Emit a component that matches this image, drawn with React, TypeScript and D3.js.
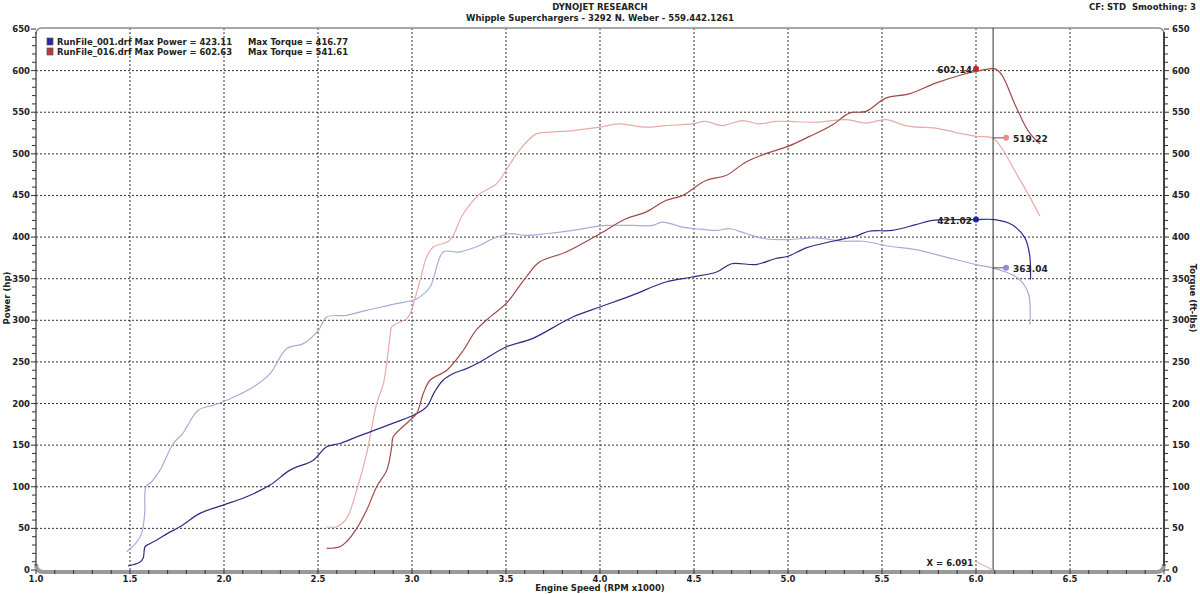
import React from "react";
import * as d3 from "d3";

const W = 1200;
const H = 594;

const xTicks = [1.0, 1.5, 2.0, 2.5, 3.0, 3.5, 4.0, 4.5, 5.0, 5.5, 6.0, 6.5, 7.0];
const yTicks = [0, 50, 100, 150, 200, 250, 300, 350, 400, 450, 500, 550, 600, 650];

const run001Power: [number, number][] = [
  [1.49, 5], [1.55, 9], [1.57, 14], [1.58, 28], [1.6, 31], [1.642, 36], [1.7, 44], [1.766, 52],
  [1.872, 68], [1.996, 78], [2.12, 88], [2.245, 102], [2.351, 120], [2.475, 132], [2.546, 148],
  [2.617, 152], [2.706, 160], [2.777, 166], [2.918, 178], [3.007, 186], [3.078, 196], [3.12, 214],
  [3.165, 228], [3.22, 236], [3.29, 242], [3.362, 250], [3.5, 268], [3.64, 278], [3.855, 304],
  [4.0, 316], [4.17, 330], [4.35, 346], [4.49, 352], [4.62, 358], [4.7, 368], [4.83, 367],
  [4.93, 374], [5.0, 377], [5.097, 387], [5.238, 395], [5.36, 401], [5.43, 407], [5.556, 408],
  [5.68, 415], [5.767, 420], [5.9, 421], [6.0, 421], [6.1, 421], [6.19, 415], [6.26, 399],
  [6.285, 379], [6.29, 349],
];

const run001Torque: [number, number][] = [
  [1.482, 22], [1.53, 32], [1.562, 44], [1.578, 68], [1.585, 100], [1.615, 106], [1.66, 120],
  [1.73, 152], [1.78, 164], [1.863, 192], [1.943, 198], [2.014, 204], [2.156, 220], [2.245, 236],
  [2.334, 266], [2.422, 272], [2.502, 288], [2.546, 304], [2.652, 306], [2.759, 312], [2.918, 320],
  [3.025, 326], [3.096, 340], [3.166, 382], [3.25, 382], [3.34, 388], [3.43, 398], [3.52, 404],
  [3.607, 402], [3.71, 404], [3.855, 408], [3.96, 412], [4.03, 414], [4.17, 414], [4.28, 414],
  [4.33, 418], [4.44, 412], [4.51, 410], [4.62, 408], [4.69, 410], [4.78, 404], [4.88, 398],
  [5.0, 397], [5.15, 399], [5.29, 395], [5.4, 395], [5.54, 389], [5.68, 385], [5.855, 375],
  [6.0, 367], [6.088, 363], [6.19, 355], [6.24, 347], [6.28, 331], [6.287, 295],
];

const run016Power: [number, number][] = [
  [2.546, 26], [2.617, 28], [2.652, 34], [2.706, 50], [2.759, 72], [2.812, 100], [2.866, 120],
  [2.892, 148], [2.9, 160], [2.99, 180], [3.025, 188], [3.06, 212], [3.096, 228], [3.185, 240],
  [3.273, 264], [3.34, 288], [3.42, 305], [3.5, 320], [3.607, 352], [3.678, 370], [3.82, 382],
  [4.0, 404], [4.138, 422], [4.244, 430], [4.35, 444], [4.44, 450], [4.563, 468], [4.67, 474],
  [4.775, 490], [4.88, 500], [5.0, 509], [5.115, 521], [5.238, 535], [5.326, 549], [5.414, 551],
  [5.52, 567], [5.644, 572], [5.785, 585], [5.926, 595], [6.0, 599], [6.1, 602], [6.137, 595],
  [6.208, 559], [6.279, 527], [6.34, 512],
];

const run016Torque: [number, number][] = [
  [2.546, 52], [2.6, 52], [2.652, 62], [2.706, 96], [2.759, 140], [2.812, 200], [2.848, 224],
  [2.883, 280], [2.892, 292], [2.972, 302], [2.99, 308], [3.043, 348], [3.078, 376], [3.113, 388],
  [3.2, 396], [3.273, 428], [3.362, 452], [3.45, 464], [3.5, 480], [3.57, 504], [3.66, 524],
  [3.73, 526], [3.855, 528], [4.0, 532], [4.1, 536], [4.244, 532], [4.35, 534], [4.49, 536],
  [4.56, 539], [4.65, 534], [4.757, 540], [4.846, 536], [4.93, 539], [5.0, 539], [5.15, 538],
  [5.31, 541], [5.414, 537], [5.52, 541], [5.644, 533], [5.785, 531], [5.908, 525], [6.0, 521],
  [6.088, 519], [6.137, 507], [6.208, 479], [6.279, 451], [6.34, 425],
];

const legendNames = ["RunFile_001.drf", "RunFile_016.drf"];
const legendMaxPower = ["423.11", "602.63"];
const legendMaxTorque = ["416.77", "541.61"];
const legendColors = ["#2a2aa8", "#b83a3a"];

const cursorX = 6.091;
const peakMarkerX = 6.0;
const torqueMarkerX = 6.16;
const powerMarkers = [
  { value: 602.14, label: "602.14", color: "#c62828" },
  { value: 421.02, label: "421.02", color: "#1f1fb0" },
];
const torqueMarkers = [
  { value: 519.22, label: "519.22", color: "#ee8a8a" },
  { value: 363.04, label: "363.04", color: "#8f8fd8" },
];

const FONT = "Verdana, 'DejaVu Sans', sans-serif";
const FS = 8.5;

export default function App() {
  const x = d3.scaleLinear().domain([1, 7]).range([36, 1164]);
  const y = d3.scaleLinear().domain([0, 650]).range([570, 29]);
  const line = d3
    .line<[number, number]>()
    .x((d) => x(d[0]))
    .y((d) => y(d[1]))
    .curve(d3.curveCatmullRom.alpha(0.5));

  const minorY = d3.range(0, 651, 10);
  const minorX = d3.range(10, 71, 1).map((v) => v / 10);
  const x0 = x(1), x1 = x(7), yTop = 28, yBot = y(0);

  const series = [
    { d: run001Torque, color: "#a9abd6", w: 1.2 },
    { d: run016Torque, color: "#e9aaa8", w: 1.2 },
    { d: run001Power, color: "#2d2d86", w: 1.2 },
    { d: run016Power, color: "#a24848", w: 1.2 },
  ];

  return (
    <svg
      width={W}
      height={H}
      style={{ position: "absolute", left: 0, top: 0, background: "#fff" }}
      fontFamily={FONT}
    >
      <rect width={W} height={H} fill="#fff" />
      {/* titles */}
      <text x={600} y={10} textAnchor="middle" fontSize={FS} fontWeight="bold" fill="#222">
        DYNOJET RESEARCH
      </text>
      <text x={600} y={21} textAnchor="middle" fontSize={FS} fontWeight="bold" fill="#222">
        Whipple Superchargers - 3292 N. Weber - 559.442.1261
      </text>
      <text x={1196} y={10} textAnchor="end" fontSize={FS} fontWeight="bold" fill="#222" style={{ whiteSpace: "pre" }}>
        {"CF: STD  Smoothing: 3"}
      </text>

      {/* grid */}
      {xTicks.slice(1, -1).map((t) => (
        <line key={"gx" + t} x1={x(t)} x2={x(t)} y1={yTop} y2={yBot} stroke="#333" strokeWidth={1} strokeDasharray="2,2" />
      ))}
      {yTicks.slice(1, -1).map((t) => (
        <line key={"gy" + t} x1={x0} x2={x1} y1={y(t)} y2={y(t)} stroke="#333" strokeWidth={1} strokeDasharray="2,2" />
      ))}

      {/* frame top */}
      <path d={`M${x0},${yTop + 6} Q${x0},${yTop} ${x0 + 6},${yTop} L${x1 - 6},${yTop} Q${x1},${yTop} ${x1},${yTop + 6}`} fill="none" stroke="#8a8a8a" strokeWidth={1.5} />
      {/* bottom grey bar */}
      <path d={`M${x0},${yBot - 6} Q${x0},${yBot + 2} ${x0 + 8},${yBot + 2} L${x1 - 8},${yBot + 2} Q${x1},${yBot + 2} ${x1},${yBot - 6}`} fill="none" stroke="#9a9a9a" strokeWidth={4} />
      {/* left axis */}
      <line x1={x0} x2={x0} y1={yTop + 4} y2={yBot - 4} stroke="#333" strokeWidth={1.2} />
      {minorY.map((v) => (
        <line key={"ly" + v} x1={x0 - (v % 50 === 0 ? 5 : 4)} x2={x0} y1={y(v)} y2={y(v)} stroke="#333" strokeWidth={1} />
      ))}
      {/* right axis */}
      <line x1={x1} x2={x1} y1={yTop + 4} y2={yBot - 4} stroke="#444" strokeWidth={2} />
      {minorY.map((v) => (
        <line key={"ry" + v} x1={x1} x2={x1 + (v % 50 === 0 ? 5 : 4)} y1={y(v)} y2={y(v)} stroke="#333" strokeWidth={1} />
      ))}
      {/* bottom ticks */}
      {minorX.map((v) => (
        <line key={"bx" + v} x1={x(v)} x2={x(v)} y1={yBot} y2={yBot + 4} stroke="#333" strokeWidth={1} />
      ))}

      {/* tick labels */}
      {yTicks.map((t) => (
        <text key={"yl" + t} x={x0 - 6} y={y(t) + 3} textAnchor="end" fontSize={FS} fontWeight="bold" fill="#222">
          {t}
        </text>
      ))}
      {yTicks.map((t) => (
        <text key={"yr" + t} x={x1 + 8} y={y(t) + 3} textAnchor="start" fontSize={FS} fontWeight="bold" fill="#222">
          {t}
        </text>
      ))}
      {xTicks.map((t) => (
        <text key={"xl" + t} x={x(t)} y={yBot + 12} textAnchor="middle" fontSize={FS} fontWeight="bold" fill="#222">
          {t.toFixed(1)}
        </text>
      ))}
      <text x={600} y={591} textAnchor="middle" fontSize={FS} fontWeight="bold" fill="#222">
        Engine Speed (RPM x1000)
      </text>
      <text transform={`translate(10,298) rotate(-90)`} textAnchor="middle" fontSize={FS} fontWeight="bold" fill="#222">
        Power (hp)
      </text>
      <text transform={`translate(1190,298) rotate(90)`} textAnchor="middle" fontSize={FS} fontWeight="bold" fill="#222">
        Torque (ft-lbs)
      </text>

      {/* legend */}
      {legendNames.map((n, i) => (
        <g key={n}>
          <rect x={47} y={38 + i * 10} width={6} height={7} fill={legendColors[i]} stroke="#555" strokeWidth={0.7} />
          <text x={57} y={45 + i * 10} fontSize={8.2} fontWeight="bold" fill="#222" textLength={175} lengthAdjust="spacingAndGlyphs">
            {`${n} Max Power = ${legendMaxPower[i]}`}
          </text>
          <text x={248} y={45 + i * 10} fontSize={8.2} fontWeight="bold" fill="#222" textLength={100} lengthAdjust="spacingAndGlyphs">
            {`Max Torque = ${legendMaxTorque[i]}`}
          </text>
        </g>
      ))}

      {/* curves */}
      {series.map((s, i) => (
        <path key={"s" + i} d={line(s.d) || ""} fill="none" stroke={s.color} strokeWidth={s.w} />
      ))}

      {/* cursor */}
      <line x1={x(cursorX)} x2={x(cursorX)} y1={yTop} y2={yBot} stroke="#333" strokeWidth={1} />
      <line x1={x(cursorX) - 17} y1={y(10)} x2={x(cursorX)} y2={yBot} stroke="#e0a0a0" strokeWidth={1} />
      <text x={x(cursorX) - 20} y={y(8) + 3} textAnchor="end" fontSize={FS} fontWeight="bold" fill="#222">
        X = 6.091
      </text>

      {/* markers */}
      {powerMarkers.map((m) => (
        <g key={m.label}>
          <circle cx={x(peakMarkerX)} cy={y(m.value)} r={3} fill={m.color} />
          <text x={x(peakMarkerX) - 4} y={y(m.value) + 4} textAnchor="end" fontSize={9} fontWeight="bold" fill="#222">
            {m.label}
          </text>
        </g>
      ))}
      {torqueMarkers.map((m) => (
        <g key={m.label}>
          <line x1={x(cursorX)} x2={x(torqueMarkerX)} y1={y(m.value)} y2={y(m.value)} stroke="#555" strokeWidth={1} />
          <circle cx={x(torqueMarkerX)} cy={y(m.value)} r={3} fill={m.color} />
          <text x={x(torqueMarkerX) + 7} y={y(m.value) + 4} textAnchor="start" fontSize={9} fontWeight="bold" fill="#222">
            {m.label}
          </text>
        </g>
      ))}
    </svg>
  );
}
